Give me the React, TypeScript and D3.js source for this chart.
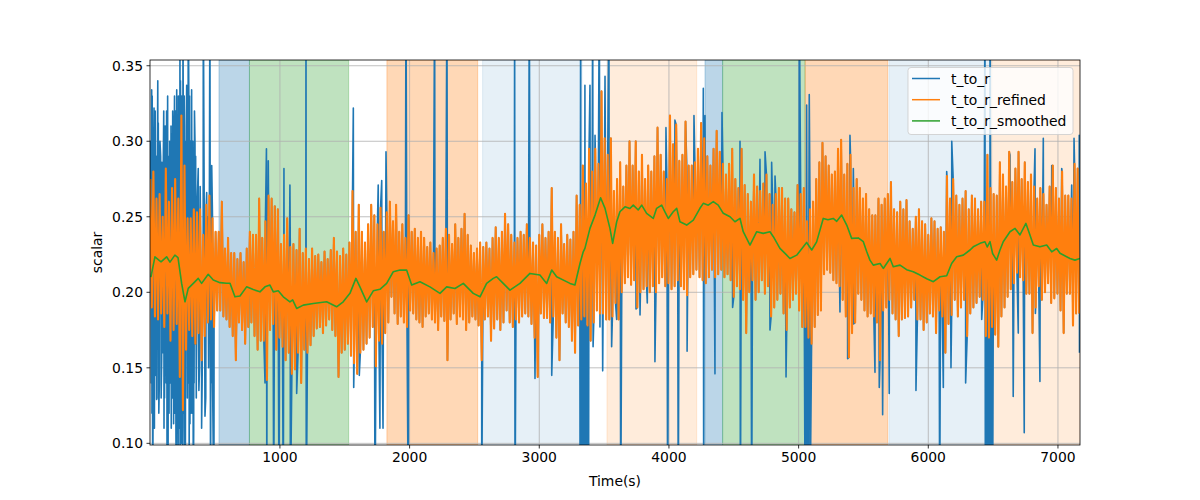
import React from "react";
import * as d3 from "d3";

const W = 1200;
const H = 500;
const M = { left: 150, right: 1080, top: 60, bottom: 445 };

const xTicks = [1000, 2000, 3000, 4000, 5000, 6000, 7000];
const yTicks = [0.1, 0.15, 0.2, 0.25, 0.3, 0.35];
const xDomain = [-2, 7170];
const yDomain = [0.0989, 0.3538];

const seriesNames = ["t_to_r", "t_to_r_refined", "t_to_r_smoothed"];
const seriesColors = ["#1f77b4", "#ff7f0e", "#2ca02c"];

// shaded intervals
const spanStart = [530, 765, 1825, 2563, 3522, 4278, 4414, 5050, 5697, 6489];
const spanEnd = [765, 1530, 2525, 3330, 4214, 4414, 5050, 5687, 6489, 7172];
const spanColor = ["#1f77b4", "#2ca02c", "#ff7f0e", "#1f77b4", "#ff7f0e", "#1f77b4", "#2ca02c", "#ff7f0e", "#1f77b4", "#ff7f0e"];
const spanAlpha = [0.3, 0.3, 0.3, 0.11, 0.15, 0.3, 0.3, 0.3, 0.11, 0.15];

// t_to_r_refined: per 24 s window, local max (at t) and local min (at t+12), in 1/1000
const refinedStep = 24;
const refinedHi = [
  275, 280, 262, 265, 250, 282, 260, 269, 275, 262,
  317, 284, 249, 249, 255, 253, 255, 238, 258, 264,
  249, 240, 240, 260, 229, 236, 226, 226, 222, 226,
  220, 229, 240, 238, 238, 262, 236, 247, 264, 262,
  257, 255, 232, 238, 249, 230, 232, 228, 242, 226,
  229, 222, 229, 224, 225, 220, 227, 222, 228, 236,
  227, 224, 229, 225, 233, 267, 240, 258, 240, 233,
  245, 258, 251, 245, 256, 240, 253, 260, 247, 258,
  240, 245, 236, 251, 240, 242, 236, 240, 236, 230,
  233, 226, 229, 231, 236, 242, 238, 232, 245, 236,
  242, 252, 238, 231, 226, 229, 233, 230, 233, 229,
  236, 243, 236, 240, 252, 245, 238, 233, 236, 240,
  238, 245, 236, 233, 231, 238, 245, 236, 240, 269,
  240, 236, 245, 232, 238, 235, 240, 264, 258, 284,
  272, 295, 280, 295, 285, 333, 302, 291, 302, 267,
  275, 286, 270, 284, 300, 284, 300, 280, 291, 275,
  284, 280, 290, 309, 291, 280, 275, 317, 298, 311,
  287, 291, 313, 284, 284, 286, 295, 312, 302, 290,
  284, 295, 307, 293, 285, 278, 285, 295, 275, 269,
  295, 271, 265, 260, 278, 270, 267, 272, 278, 265,
  258, 265, 269, 269, 262, 262, 255, 253, 271, 265,
  269, 247, 255, 260, 275, 286, 299, 290, 284, 278,
  280, 295, 301, 278, 285, 291, 269, 275, 269, 262,
  265, 255, 251, 251, 262, 258, 262, 265, 273, 255,
  253, 260, 255, 261, 247, 242, 250, 255, 247, 245,
  238, 249, 247, 242, 243, 240, 277, 262, 275, 264,
  258, 262, 267, 255, 264, 262, 255, 260, 260, 291,
  269, 265, 264, 286, 278, 270, 293, 273, 282, 293,
  275, 286, 273, 278, 270, 262, 269, 265, 258, 270,
  284, 269, 262, 280, 264, 264, 262, 285, 282,
];
const refinedLo = [
  190, 184, 182, 186, 177, 186, 168, 175, 179, 144,
  122, 162, 175, 171, 166, 173, 155, 171, 180, 182,
  177, 188, 188, 184, 182, 177, 171, 155, 180, 175,
  166, 177, 180, 171, 162, 168, 168, 142, 175, 179,
  162, 170, 164, 155, 160, 146, 149, 160, 140, 162,
  160, 165, 171, 176, 177, 173, 178, 182, 175, 171,
  144, 160, 162, 166, 158, 153, 146, 160, 162, 166,
  170, 177, 151, 168, 166, 173, 180, 197, 186, 179,
  184, 180, 177, 188, 186, 182, 180, 177, 184, 186,
  182, 180, 175, 184, 181, 155, 182, 186, 179, 184,
  182, 175, 180, 184, 182, 178, 155, 182, 184, 168,
  176, 182, 175, 180, 188, 180, 177, 182, 180, 184,
  186, 184, 179, 170, 144, 186, 183, 183, 180, 184,
  170, 155, 186, 180, 177, 168, 160, 178, 182, 184,
  178, 168, 180, 188, 186, 186, 182, 182, 184, 193,
  182, 200, 206, 210, 205, 208, 190, 200, 202, 204,
  200, 204, 200, 206, 210, 204, 206, 202, 204, 208,
  204, 202, 198, 210, 212, 215, 210, 208, 206, 210,
  215, 210, 212, 215, 210, 212, 208, 197, 204, 202,
  195, 173, 200, 208, 195, 200, 208, 199, 204, 184,
  190, 195, 199, 186, 175, 190, 195, 199, 188, 177,
  177, 170, 166, 177, 185, 188, 212, 215, 213, 208,
  206, 204, 195, 184, 157, 173, 180, 199, 195, 188,
  184, 186, 184, 180, 155, 188, 190, 195, 186, 182,
  171, 182, 183, 184, 190, 195, 182, 182, 175, 180,
  186, 184, 173, 188, 184, 160, 179, 185, 195, 184,
  190, 195, 171, 186, 190, 193, 197, 195, 171, 170,
  177, 172, 164, 184, 190, 197, 202, 206, 213, 210,
  208, 199, 199, 173, 190, 204, 195, 200, 206, 193,
  196, 199, 188, 173, 199, 199, 178, 186, 186,
];

// t_to_r: outlier samples (time s, value 1/1000); elsewhere it coincides with refined
const rawOutT = [
  3, 6, 8, 11, 13, 15, 19, 23, 26, 29, 32, 35, 38, 42, 45, 49, 52, 55, 58, 62,
  66, 70, 75, 80, 84, 88, 90, 95, 100, 104, 106, 110, 115, 120, 123, 126, 130, 134, 137, 140,
  145, 150, 155, 160, 162, 165, 170, 173, 177, 180, 185, 187, 190, 195, 198, 200, 204, 208, 212, 215,
  217, 220, 223, 225, 229, 230, 233, 235, 238, 240, 243, 245, 250, 252, 255, 258, 262, 265, 270, 275,
  278, 281, 286, 290, 293, 298, 300, 303, 306, 310, 315, 319, 325, 328, 332, 335, 338, 341, 345, 350,
  355, 362, 370, 375, 380, 385, 396, 400, 409, 415, 422, 428, 435, 445, 450,
  460, 465, 470, 474, 481, 491,
  885, 896, 899, 910, 952, 962, 993, 1026, 1031, 1077, 1080, 1129, 1201, 1203,
  1566, 1569, 1612, 1733, 1758, 1771, 1785, 1795, 1818, 1972, 1990, 2193, 2288, 2556, 2810, 2813,
  2923, 2967, 3096, 3315, 3319, 3322, 3330, 3335, 3340, 3345, 3350, 3352, 3355, 3360, 3365, 3370,
  3375, 3380, 3391, 3412, 3415, 3430,
  3463, 3468, 3489, 3507, 3537, 3558, 3597, 3628, 3746, 3777, 3833, 3892, 3977, 3990, 4046,
  4072, 4137, 4140, 4193, 4265, 4268, 4278, 4355, 4409, 4491, 4548, 4551, 4638, 4702, 4741,
  4779, 4792, 4818, 4903, 5005, 5050, 5056, 5062, 5065, 5070, 5075, 5082, 5088, 5319, 5378, 5396, 5422, 5424,
  5589, 5622, 5648, 5699, 5905, 6088, 6116, 6142, 6175, 6181, 6288, 6412, 6437, 6440, 6445, 6450,
  6456, 6462, 6468, 6475, 6476, 6484, 6496, 6630, 6655, 6694, 6740, 6823, 6826, 6861, 6887, 6952, 7029, 7106,
  7124, 7164, 7166,
];
const rawOutV = [
  300, 260, 140, 334, 120, 330, 50, 160, 290, 322, 110, 300, 320, 145, 290, 129, 130, 290, 340, 312,
  120, 140, 300, 290, 130, 155, 286, 160, 280, 320, 110, 130, 310, 300, 140, 320, 50, 330, 50, 290,
  120, 300, 140, 310, 110, 305, 130, 320, 299, 113, 300, 330, 120, 320, 110, 50, 334, 125, 300, 50,
  330, 110, 120, 330, 400, 50, 340, 300, 120, 100, 330, 310, 50, 400, 300, 120, 330, 110, 50, 300,
  310, 337, 130, 140, 400, 320, 50, 330, 113, 300, 120, 334, 120, 300, 50, 110, 140, 320, 299, 290,
  130, 260, 282, 135, 150, 270, 110, 140, 400, 280, 118, 130, 266, 250, 150,
  400, 50, 140, 284, 137, 50,
  140, 295, 50, 287, 50, 257, 50, 50, 282, 271, 50, 133, 400, 50,
  322, 137, 145, 50, 271, 110, 274, 110, 293, 400, 50, 400, 400, 60, 400, 50,
  400, 143, 145, 50, 400, 50, 50, 50, 50, 50, 50, 337, 50, 50, 50, 50,
  50, 50, 337, 400, 164, 304,
  400, 177, 148, 343, 400, 164, 182, 50, 189, 185, 193, 154, 309, 50, 314,
  50, 286, 161, 317, 335, 50, 317, 146, 319, 190, 300, 50, 50, 288, 293,
  175, 286, 277, 144, 400, 50, 50, 324, 50, 50, 50, 331, 50, 187, 156, 304, 282, 179,
  147, 137, 119, 133, 135, 50, 137, 280, 150, 300, 140, 182, 400, 50, 50, 50,
  50, 50, 50, 50, 400, 50, 50, 291, 131, 173, 107, 295, 186, 141, 302, 284, 282, 271,
  302, 304, 160,
];

// t_to_r_smoothed
const smoothT = [
  5, 36, 83, 126, 152, 190, 214, 242, 268, 293,
  332, 370, 396, 447, 486, 538, 589, 615, 653, 692,
  743, 794, 846, 885, 923, 949, 987, 1026, 1077, 1098,
  1129, 1180, 1257, 1360, 1437, 1488, 1540, 1586, 1617, 1669,
  1720, 1771, 1823, 1874, 1926, 1977, 2016, 2080, 2157, 2234,
  2286, 2350, 2414, 2491, 2543, 2594, 2645, 2671, 2722, 2774,
  2851, 2928, 3005, 3057, 3096, 3134, 3237, 3275, 3314, 3339,
  3352, 3391, 3430, 3473, 3507, 3545, 3566, 3597, 3622, 3661,
  3699, 3725, 3763, 3790, 3828, 3879, 3905, 3944, 3969, 3995,
  4033, 4060, 4085, 4137, 4188, 4239, 4265, 4303, 4342, 4380,
  4419, 4471, 4509, 4548, 4573, 4625, 4677, 4727, 4779, 4805,
  4856, 4895, 4933, 4985, 5062, 5101, 5139, 5190, 5226, 5267,
  5294, 5332, 5371, 5409, 5460, 5499, 5525, 5550, 5576, 5628,
  5653, 5705, 5730, 5782, 5833, 5884, 5936, 5988, 6039, 6091,
  6142, 6180, 6219, 6270, 6322, 6347, 6399, 6437, 6455, 6476,
  6496, 6527, 6553, 6578, 6630, 6669, 6707, 6753, 6784, 6810,
  6861, 6913, 6952, 6990, 7016, 7093, 7131, 7170,
];
const smoothV = [
  0.21, 0.2235, 0.2202, 0.2235, 0.22, 0.2246, 0.223, 0.2059, 0.1937, 0.2026,
  0.2059, 0.2092, 0.2059, 0.2119, 0.2081, 0.2064, 0.206, 0.206, 0.197, 0.1975,
  0.2036, 0.2018, 0.2003, 0.2036, 0.2048, 0.2003, 0.201, 0.197, 0.1937, 0.195,
  0.1893, 0.1915, 0.1926, 0.1937, 0.1904, 0.1937, 0.1993, 0.2092, 0.2036, 0.1937,
  0.201, 0.202, 0.2059, 0.2136, 0.2147, 0.2147, 0.2048, 0.207, 0.2036, 0.1993,
  0.2036, 0.2025, 0.2059, 0.1993, 0.197, 0.2059, 0.2092, 0.2103, 0.2059, 0.2014,
  0.2059, 0.2125, 0.2114, 0.2059, 0.2147, 0.2103, 0.2059, 0.2048, 0.2191, 0.2268,
  0.2291, 0.2423, 0.2511, 0.2626, 0.2556, 0.2423, 0.2324, 0.2467, 0.2533, 0.2566,
  0.2555, 0.2577, 0.2545, 0.2577, 0.2523, 0.2489, 0.2556, 0.2577, 0.2533, 0.2489,
  0.2533, 0.2556, 0.2467, 0.2445, 0.2478, 0.2556, 0.2589, 0.2577, 0.26, 0.2577,
  0.2523, 0.25, 0.2467, 0.2489, 0.2401, 0.2313, 0.2401, 0.239, 0.2401, 0.2368,
  0.2291, 0.2258, 0.2224, 0.2246, 0.233, 0.228, 0.2334, 0.2489, 0.248, 0.2489,
  0.247, 0.2511, 0.2445, 0.2357, 0.236, 0.2335, 0.227, 0.2213, 0.218, 0.2191,
  0.2158, 0.2224, 0.2169, 0.218, 0.215, 0.2136, 0.2114, 0.209, 0.207, 0.2103,
  0.211, 0.2191, 0.2235, 0.2246, 0.228, 0.2301, 0.2324, 0.2335, 0.23, 0.2335,
  0.2257, 0.2213, 0.228, 0.2335, 0.2401, 0.2423, 0.238, 0.2456, 0.238, 0.2313,
  0.2301, 0.2313, 0.2268, 0.229, 0.2258, 0.2224, 0.2213, 0.2224,
];

type P = [number, number];

function buildRefined(): P[] {
  const pts: P[] = [];
  refinedHi.forEach((h, i) => {
    pts.push([i * refinedStep, h / 1000]);
    pts.push([i * refinedStep + refinedStep / 2, refinedLo[i] / 1000]);
  });
  return pts;
}

function buildRaw(refined: P[]): P[] {
  const out: P[] = rawOutT.map((t, i) => [t, rawOutV[i] / 1000] as P);
  const all = refined.concat(out);
  return all
    .map((p, k) => ({ p, k }))
    .sort((a, b) => a.p[0] - b.p[0] || a.k - b.k)
    .map((o) => o.p);
}

const FONT = "DejaVu Sans, sans-serif";
const FS = 13.9;

export default function App() {
  const x = d3.scaleLinear().domain(xDomain).range([M.left, M.right]);
  const y = d3.scaleLinear().domain(yDomain).range([M.bottom, M.top]);
  const line = d3
    .line<P>()
    .x((d) => x(d[0]))
    .y((d) => y(d[1]));

  const refined = buildRefined();
  const raw = buildRaw(refined);
  const smooth: P[] = smoothT.map((t, i) => [t, smoothV[i]]);

  const legendX = 908;
  const legendY = 67.5;
  const rowH = 21.2;

  return (
    <svg
      width={W}
      height={H}
      style={{ position: "absolute", left: 0, top: 0, background: "#fff" }}
      fontFamily={FONT}
    >
      <defs>
        <clipPath id="plot">
          <rect x={M.left} y={M.top} width={M.right - M.left} height={M.bottom - M.top} />
        </clipPath>
      </defs>
      <g clipPath="url(#plot)">
        {spanStart.map((s, i) => (
          <rect
            key={"sp" + i}
            x={x(s)}
            y={M.top}
            width={x(spanEnd[i]) - x(s)}
            height={M.bottom - M.top}
            fill={spanColor[i]}
            fillOpacity={spanAlpha[i]}
            stroke={spanColor[i]}
            strokeOpacity={spanAlpha[i]}
            strokeWidth={1}
          />
        ))}
        {xTicks.map((t) => (
          <line key={"gx" + t} x1={x(t)} x2={x(t)} y1={M.top} y2={M.bottom} stroke="#b0b0b0" strokeWidth={0.8} />
        ))}
        {yTicks.map((t) => (
          <line key={"gy" + t} x1={M.left} x2={M.right} y1={y(t)} y2={y(t)} stroke="#b0b0b0" strokeWidth={0.8} />
        ))}
        <path d={line(raw) || ""} fill="none" stroke={seriesColors[0]} strokeWidth={1.6} strokeLinejoin="round" />
        <path d={line(refined) || ""} fill="none" stroke={seriesColors[1]} strokeWidth={2.1} strokeLinejoin="round" />
        <path d={line(smooth) || ""} fill="none" stroke={seriesColors[2]} strokeWidth={1.6} strokeLinejoin="round" />
      </g>
      <rect
        x={M.left}
        y={M.top}
        width={M.right - M.left}
        height={M.bottom - M.top}
        fill="none"
        stroke="#000"
        strokeWidth={0.8}
      />
      {xTicks.map((t) => (
        <g key={"tx" + t}>
          <line x1={x(t)} x2={x(t)} y1={M.bottom} y2={M.bottom + 3.5} stroke="#000" strokeWidth={0.8} />
          <text x={x(t)} y={M.bottom + 7} fontSize={FS} textAnchor="middle" dominantBaseline="hanging">
            {t}
          </text>
        </g>
      ))}
      {yTicks.map((t) => (
        <g key={"ty" + t}>
          <line x1={M.left - 3.5} x2={M.left} y1={y(t)} y2={y(t)} stroke="#000" strokeWidth={0.8} />
          <text x={M.left - 7} y={y(t)} fontSize={FS} textAnchor="end" dominantBaseline="central">
            {t.toFixed(2)}
          </text>
        </g>
      ))}
      <text x={(M.left + M.right) / 2} y={486} fontSize={FS} textAnchor="middle">
        Time(s)
      </text>
      <text
        transform={`translate(97,${(M.top + M.bottom) / 2}) rotate(-90)`}
        fontSize={FS}
        textAnchor="middle"
        dominantBaseline="central"
      >
        scalar
      </text>
      <g>
        <rect
          x={legendX}
          y={legendY}
          width={165}
          height={67}
          rx={3}
          fill="#fff"
          fillOpacity={0.8}
          stroke="#cccccc"
          strokeOpacity={0.8}
          strokeWidth={1}
        />
        {seriesNames.map((n, i) => (
          <g key={n}>
            <line
              x1={legendX + 4}
              x2={legendX + 32}
              y1={legendY + 11 + i * rowH}
              y2={legendY + 11 + i * rowH}
              stroke={seriesColors[i]}
              strokeWidth={1.5}
            />
            <text x={legendX + 43} y={legendY + 11 + i * rowH} fontSize={FS} dominantBaseline="central">
              {n}
            </text>
          </g>
        ))}
      </g>
    </svg>
  );
}
